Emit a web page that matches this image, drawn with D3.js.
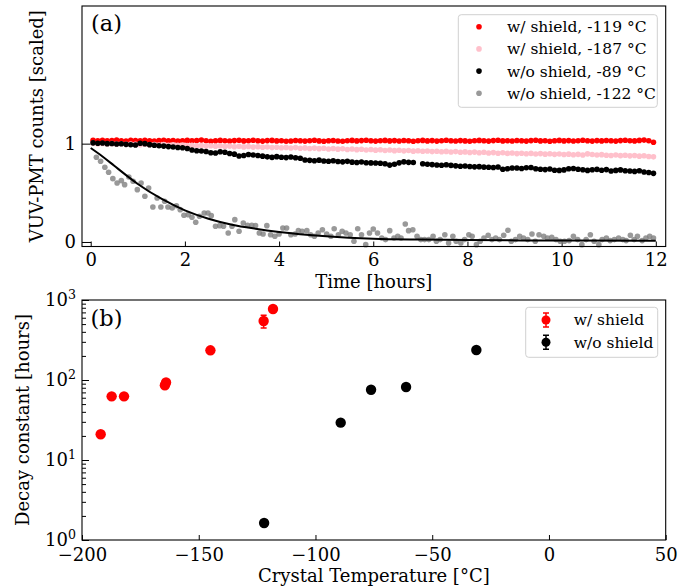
<!DOCTYPE html>
<html>
<head>
<meta charset="utf-8">
<script src="https://cdn.jsdelivr.net/npm/d3@7"></script>
<style>
	body { margin: 0; background: #fff; }
	svg { display: block; font-family: "DejaVu Serif", serif; }
	.axis path.domain { display: none; }
	.axis line { stroke: #000; stroke-width: 1; }
	.axis text { font-family: "DejaVu Serif", serif; font-size: 18px; fill: #000; }
</style>
</head>
<body>
<div id="chart-area"></div>
<script>

// ---------- Panel (a): VUV-PMT counts vs time ----------

// Sampling times shared by the three slow series [hours]
var timeHours = [
	0.05, 0.15, 0.25, 0.35, 0.45, 0.55, 0.65, 0.75, 0.85, 0.95,
	1.05, 1.15, 1.25, 1.35, 1.45, 1.55, 1.65, 1.75, 1.85, 1.95,
	2.05, 2.15, 2.25, 2.35, 2.45, 2.55, 2.65, 2.75, 2.85, 2.95,
	3.05, 3.15, 3.25, 3.35, 3.45, 3.55, 3.65, 3.75, 3.85, 3.95,
	4.05, 4.15, 4.25, 4.35, 4.45, 4.55, 4.65, 4.75, 4.85, 4.95,
	5.05, 5.15, 5.25, 5.35, 5.45, 5.55, 5.65, 5.75, 5.85, 5.95,
	6.05, 6.15, 6.25, 6.35, 6.45, 6.55, 6.65, 6.75, 6.85, 6.95,
	7.05, 7.15, 7.25, 7.35, 7.45, 7.55, 7.65, 7.75, 7.85, 7.95,
	8.05, 8.15, 8.25, 8.35, 8.45, 8.55, 8.65, 8.75, 8.85, 8.95,
	9.05, 9.15, 9.25, 9.35, 9.45, 9.55, 9.65, 9.75, 9.85, 9.95,
	10.05, 10.15, 10.25, 10.35, 10.45, 10.55, 10.65, 10.75, 10.85, 10.95,
	11.05, 11.15, 11.25, 11.35, 11.45, 11.55, 11.65, 11.75, 11.85, 11.95
];

// w/ shield, -119 C
var shield119 = [
	1.035, 1.030, 1.034, 1.028, 1.032, 1.036, 1.030, 1.027, 1.033, 1.031,
	1.029, 1.034, 1.030, 1.026, 1.031, 1.035, 1.029, 1.032, 1.027, 1.030,
	1.033, 1.028, 1.031, 1.036, 1.030, 1.025, 1.029, 1.033, 1.030, 1.027,
	1.031, 1.034, 1.028, 1.030, 1.035, 1.029, 1.026, 1.031, 1.033, 1.028,
	1.030, 1.024, 1.027, 1.032, 1.029, 1.026, 1.030, 1.034, 1.028, 1.025,
	1.029, 1.032, 1.027, 1.024, 1.030, 1.033, 1.028, 1.031, 1.035, 1.029,
	1.026, 1.030, 1.033, 1.028, 1.031, 1.027, 1.032, 1.029, 1.025, 1.030,
	1.033, 1.028, 1.031, 1.026, 1.030, 1.034, 1.029, 1.027, 1.031, 1.028,
	1.024, 1.030, 1.033, 1.029, 1.026, 1.031, 1.035, 1.028, 1.030, 1.027,
	1.032, 1.029, 1.026, 1.031, 1.034, 1.028, 1.030, 1.025, 1.029, 1.033,
	1.028, 1.031, 1.027, 1.030, 1.034, 1.029, 1.026, 1.031, 1.028, 1.032,
	1.029, 1.026, 1.031, 1.035, 1.030, 1.028, 1.033, 1.036, 1.030, 1.014
];

// w/ shield, -187 C
var shield187 = [
	1.004, 0.998, 1.002, 0.996, 1.000, 0.995, 0.999, 0.993, 0.997, 0.994,
	0.990, 0.994, 0.988, 0.992, 0.986, 0.990, 0.984, 0.988, 0.982, 0.985,
	0.980, 0.984, 0.977, 0.981, 0.975, 0.979, 0.973, 0.977, 0.971, 0.975,
	0.969, 0.973, 0.967, 0.971, 0.965, 0.969, 0.963, 0.966, 0.960, 0.964,
	0.958, 0.962, 0.956, 0.960, 0.953, 0.957, 0.951, 0.955, 0.949, 0.953,
	0.946, 0.950, 0.944, 0.948, 0.941, 0.945, 0.939, 0.943, 0.936, 0.940,
	0.934, 0.938, 0.931, 0.935, 0.929, 0.933, 0.927, 0.931, 0.924, 0.928,
	0.922, 0.926, 0.919, 0.923, 0.917, 0.921, 0.915, 0.919, 0.912, 0.916,
	0.910, 0.914, 0.908, 0.912, 0.905, 0.909, 0.903, 0.907, 0.901, 0.905,
	0.899, 0.903, 0.897, 0.901, 0.895, 0.899, 0.893, 0.897, 0.891, 0.895,
	0.889, 0.893, 0.887, 0.891, 0.885, 0.896, 0.890, 0.884, 0.888, 0.882,
	0.880, 0.884, 0.878, 0.882, 0.876, 0.879, 0.873, 0.877, 0.870, 0.866
];

// w/o shield, -89 C (null = missing sample)
var noShield89 = [
	1.008, 1.004, 1.006, 1.000, 1.002, 0.997, 0.999, 0.993, 0.989, 0.986,
	1.004, 1.000, 0.990, 0.984, 0.978, 0.975, 0.970, 0.966, 0.961, 0.958,
	0.950, 0.935, 0.928, 0.925, 0.920, 0.908, 0.905, 0.917, 0.912, 0.900,
	0.893, 0.875, 0.880, 0.889, 0.884, 0.880, 0.873, 0.866, 0.860, 0.868,
	0.862, 0.858, 0.864, 0.857, 0.852, 0.833, 0.830, 0.826, 0.832, 0.824,
	0.821, 0.826, 0.818, 0.815, 0.820, 0.812, 0.809, 0.814, 0.806, 0.804,
	0.803, 0.800, 0.795, 0.782, 0.790, 0.805, 0.815, 0.810, 0.808, null,
	0.795, 0.790, 0.787, 0.783, 0.780, 0.785, 0.779, 0.774, 0.770, 0.772,
	0.768, 0.764, 0.766, 0.761, 0.760, 0.757, 0.762, 0.740, 0.745, 0.753,
	0.752, 0.748, 0.755, 0.758, 0.745, 0.740, 0.736, 0.742, 0.730, 0.728,
	0.733, 0.745, 0.748, 0.740, 0.735, 0.728, 0.734, 0.738, 0.730, 0.736,
	0.722, 0.728, 0.733, 0.725, 0.722, 0.718, 0.724, 0.712, 0.706, 0.698
];

// w/o shield, -122 C (fast decay, noisy)
var noShield122Time = [
	0.12, 0.21, 0.30, 0.38, 0.47, 0.56, 0.65, 0.72, 0.81, 0.90,
	0.99, 1.07, 1.15, 1.23, 1.32, 1.41, 1.49, 1.57, 1.64, 1.73,
	1.82, 1.90, 1.98, 2.07, 2.15, 2.23, 2.31, 2.41, 2.49, 2.56,
	2.65, 2.74, 2.82, 2.92, 3.00, 3.06, 3.15, 3.24, 3.33, 3.42,
	3.50, 3.58, 3.66, 3.74, 3.82, 3.91, 4.00, 4.08, 4.16, 4.25,
	4.34, 4.41, 4.49, 4.59, 4.67, 4.75, 4.83, 4.92, 5.01, 5.10,
	5.17, 5.26, 5.34, 5.42, 5.51, 5.59, 5.67, 5.75, 5.84, 5.92,
	6.00, 6.09, 6.18, 6.26, 6.35, 6.44, 6.52, 6.59, 6.68, 6.75,
	6.84, 6.93, 7.01, 7.09, 7.18, 7.27, 7.34, 7.42, 7.52, 7.60,
	7.69, 7.76, 7.86, 7.94, 8.03, 8.10, 8.19, 8.27, 8.35, 8.44,
	8.52, 8.60, 8.68, 8.77, 8.86, 8.93, 9.02, 9.11, 9.19, 9.28,
	9.37, 9.44, 9.52, 9.62, 9.70, 9.79, 9.88, 9.97, 10.06, 10.16,
	10.25, 10.34, 10.43, 10.52, 10.61, 10.69, 10.79, 10.86, 10.95, 11.03,
	11.12, 11.21, 11.30, 11.37, 11.46, 11.54, 11.61, 11.71, 11.79, 11.87,
	11.95
];
var noShield122 = [
	0.862, 0.821, 0.760, 0.709, 0.644, 0.600, 0.624, 0.583, 0.661, 0.617,
	0.532, 0.600, 0.465, 0.549, 0.356, 0.448, 0.356, 0.414, 0.356, 0.346,
	0.369, 0.329, 0.272, 0.278, 0.251, 0.200, 0.261, 0.295, 0.295, 0.268,
	0.160, 0.166, 0.160, 0.092, 0.160, 0.227, 0.109, 0.193, 0.170, 0.170,
	0.166, 0.092, 0.081, 0.166, 0.074, 0.058, 0.081, 0.142, 0.142, 0.074,
	0.081, 0.115, 0.109, 0.115, 0.074, 0.058, 0.092, 0.125, 0.081, 0.058,
	0.135, 0.074, 0.109, 0.092, 0.074, 0.007, 0.135, 0.074, -0.027, 0.092,
	0.132, 0.092, 0.041, 0.024, 0.115, 0.041, 0.058, 0.041, 0.183, 0.115,
	0.125, 0.058, 0.024, 0.024, 0.024, 0.058, 0.007, 0.024, 0.074, -0.010,
	0.058, 0.007, -0.010, 0.024, 0.074, 0.058, -0.027, 0.007, 0.041, 0.068,
	0.024, 0.041, 0.024, 0.068, 0.119, 0.007, 0.024, 0.058, 0.041, 0.024,
	0.081, 0.007, 0.074, 0.058, 0.041, 0.048, 0.024, 0.007, 0.007, 0.014,
	0.058, 0.024, -0.027, 0.024, 0.074, 0.007, -0.027, 0.024, 0.041, 0.014,
	0.024, 0.041, 0.024, 0.014, 0.068, 0.024, 0.058, 0.014, 0.041, 0.058,
	0.041
];

// Exponential fit to the -122 C data
var fitTime   = [0, 0.25, 0.5, 0.75, 1, 1.5, 2, 2.5, 3, 3.5, 4, 5, 6, 7, 8, 10, 12];
var fitCounts = [0.956, 0.87, 0.775, 0.68, 0.59, 0.44, 0.322, 0.237, 0.176, 0.135, 0.102, 0.058, 0.033, 0.024, 0.019, 0.015, 0.013];

var seriesLabels = ["w/ shield, -119 °C", "w/ shield, -187 °C", "w/o shield, -89 °C", "w/o shield, -122 °C"];

// ---------- Panel (b): decay constant vs crystal temperature ----------
var shieldTemp    = [-192, -187.3, -182, -164.5, -164, -145, -122.2, -118.2];
var shieldDecay   = [21, 62.5, 62.5, 86, 93, 235, 547, 772];
var shieldErr     = [1, 3, 3, 5, 5, 12, 100, 40];
var noShieldTemp  = [-122, -89.2, -76.2, -61.2, -31.1];
var noShieldDecay = [1.63, 29.3, 75.6, 81.7, 237];
var noShieldErr   = [0.05, 1.5, 4, 4, 12];
var decayLabels   = ["w/ shield", "w/o shield"];

// Tick labels
var timeTicks  = [0, 2, 4, 6, 8, 10, 12];
var countTicks = [0, 1];
var tempTicks  = [-200, -150, -100, -50, 0, 50];
var decayTicks = [1, 10, 100, 1000];


// ---------- Layout ----------
var width = 695, height = 588;
var boxA = { left: 82, right: 665.7, top: 6,   bottom: 246.5 };
var boxB = { left: 82, right: 665.7, top: 300, bottom: 540 };

var seriesColors = ["#ff0000", "pink", "#000000", "#808080"];

var svg = d3.select('#chart-area')
	.append('svg')
		.attr('width', width)
		.attr('height', height);

// Scales
var xA = d3.scaleLinear().domain([-0.185, 12.21]).range([boxA.left, boxA.right]);
var yA = d3.scaleLinear().domain([-0.046, 2.40]).range([boxA.bottom, boxA.top]);
var xB = d3.scaleLinear().domain([-200, 50]).range([boxB.left, boxB.right]);
var yB = d3.scaleLog().domain([1, 1000]).range([boxB.bottom, boxB.top]);


// ---------- Panel (a) ----------
svg.append('g')
	.attr('class', 'axis')
	.attr('transform', 'translate(0,' + boxA.bottom + ')')
	.call(d3.axisBottom(xA).tickValues(timeTicks).tickSize(-5).tickPadding(7).tickFormat(d3.format('d')));

svg.append('g')
	.attr('class', 'axis')
	.attr('transform', 'translate(' + boxA.left + ',0)')
	.call(d3.axisLeft(yA).tickValues(countTicks).tickSize(-9).tickPadding(6).tickFormat(d3.format('d')));

// Slow series share the same time stamps
var slowSeries = [shield119, shield187, noShield89];
slowSeries.forEach(function(values, i) {
	svg.append('g')
		.selectAll('circle')
		.data(timeHours.map(function(t, j) { return { t: t, v: values[j] }; })
			.filter(function(d) { return d.v !== null; }))
		.enter().append('circle')
			.attr('cx', function(d) { return xA(d.t); })
			.attr('cy', function(d) { return yA(d.v); })
			.attr('r', 2.8)
			.attr('fill', seriesColors[i]);
});

// Fast decaying series
svg.append('g')
	.selectAll('circle')
	.data(noShield122Time.map(function(t, j) { return { t: t, v: noShield122[j] }; }))
	.enter().append('circle')
		.attr('cx', function(d) { return xA(d.t); })
		.attr('cy', function(d) { return yA(d.v); })
		.attr('r', 2.8)
		.attr('fill', seriesColors[3])
		.attr('fill-opacity', 0.8);

// Fit curve
var fitLine = d3.line()
	.x(function(d, i) { return xA(fitTime[i]); })
	.y(function(d) { return yA(d); })
	.curve(d3.curveMonotoneX);

svg.append('path')
	.attr('d', fitLine(fitCounts))
	.attr('fill', 'none')
	.attr('stroke', '#000')
	.attr('stroke-width', 2);

// Legend (a)
var legA = svg.append('g');
legA.append('rect')
	.attr('x', 458.3).attr('y', 14.7)
	.attr('width', 199).attr('height', 92.6)
	.attr('rx', 3)
	.attr('fill', '#fff').attr('fill-opacity', 0.8)
	.attr('stroke', '#d0d0d0').attr('stroke-width', 1);

seriesLabels.forEach(function(label, i) {
	var yy = 26.7 + i * 22.2;
	legA.append('circle')
		.attr('cx', 479).attr('cy', yy).attr('r', 2.8)
		.attr('fill', seriesColors[i])
		.attr('fill-opacity', i === 3 ? 0.8 : 1);
	legA.append('text')
		.attr('x', 507).attr('y', yy).attr('dy', '0.35em')
		.attr('font-size', '15.5px')
		.text(label);
});

svg.append('text')
	.attr('x', 91).attr('y', 31)
	.attr('font-size', '22.5px')
	.text('(a)');

// Axis titles (a)
svg.append('text')
	.attr('x', (boxA.left + boxA.right) / 2).attr('y', 288)
	.attr('text-anchor', 'middle')
	.attr('font-size', '18px')
	.text('Time [hours]');

svg.append('text')
	.attr('transform', 'translate(43,' + ((boxA.top + boxA.bottom) / 2) + ') rotate(-90)')
	.attr('text-anchor', 'middle')
	.attr('font-size', '18px')
	.text('VUV-PMT counts [scaled]');

svg.append('rect')
	.attr('x', boxA.left).attr('y', boxA.top)
	.attr('width', boxA.right - boxA.left).attr('height', boxA.bottom - boxA.top)
	.attr('fill', 'none').attr('stroke', '#000').attr('stroke-width', 1.1);


// ---------- Panel (b) ----------
svg.append('g')
	.attr('class', 'axis')
	.attr('transform', 'translate(0,' + boxB.bottom + ')')
	.call(d3.axisBottom(xB).tickValues(tempTicks).tickSize(-5).tickPadding(8.5).tickFormat(d3.format('d')));

// Minor log ticks
var minorTicks = yB.ticks().filter(function(d) { return decayTicks.indexOf(d) < 0; });
svg.append('g')
	.attr('class', 'axis')
	.attr('transform', 'translate(' + boxB.left + ',0)')
	.call(d3.axisLeft(yB).tickValues(minorTicks).tickSize(-4).tickFormat(''));

var yAxisB = svg.append('g')
	.attr('class', 'axis')
	.attr('transform', 'translate(' + boxB.left + ',0)')
	.call(d3.axisLeft(yB).tickValues(decayTicks).tickSize(-7).tickPadding(6).tickFormat(''));

// 10^n labels
yAxisB.selectAll('.tick text').each(function(d) {
	var t = d3.select(this).attr('dy', null).attr('y', 5.5);
	t.append('tspan').text('10');
	t.append('tspan')
		.attr('dy', -7)
		.attr('font-size', '12.6px')
		.text(Math.round(Math.log10(d)));
});

// Scatter with error bars
function drawDecay(temps, decays, errs, color) {
	var g = svg.append('g');
	var pts = temps.map(function(t, i) { return { t: t, v: decays[i], e: errs[i] }; });

	g.selectAll('.err')
		.data(pts)
		.enter().append('path')
			.attr('class', 'err')
			.attr('d', function(d) {
				var x = xB(d.t), y1 = yB(d.v - d.e), y2 = yB(d.v + d.e);
				return 'M' + x + ',' + y1 + 'V' + y2 +
					'M' + (x - 3) + ',' + y1 + 'H' + (x + 3) +
					'M' + (x - 3) + ',' + y2 + 'H' + (x + 3);
			})
			.attr('stroke', color)
			.attr('stroke-width', 1.5)
			.attr('fill', 'none');

	g.selectAll('circle')
		.data(pts)
		.enter().append('circle')
			.attr('cx', function(d) { return xB(d.t); })
			.attr('cy', function(d) { return yB(d.v); })
			.attr('r', 5.2)
			.attr('fill', color);
}

drawDecay(shieldTemp, shieldDecay, shieldErr, '#ff0000');
drawDecay(noShieldTemp, noShieldDecay, noShieldErr, '#000000');

// Legend (b)
var legB = svg.append('g');
legB.append('rect')
	.attr('x', 525.7).attr('y', 307.3)
	.attr('width', 132).attr('height', 50)
	.attr('rx', 3)
	.attr('fill', '#fff').attr('fill-opacity', 0.8)
	.attr('stroke', '#d0d0d0').attr('stroke-width', 1);

decayLabels.forEach(function(label, i) {
	var yy = 320 + i * 22.3;
	var color = i === 0 ? '#ff0000' : '#000000';
	legB.append('path')
		.attr('d', 'M546,' + (yy - 7) + 'V' + (yy + 7) +
			'M543,' + (yy - 7) + 'H549M543,' + (yy + 7) + 'H549')
		.attr('stroke', color).attr('stroke-width', 1.5).attr('fill', 'none');
	legB.append('circle')
		.attr('cx', 546).attr('cy', yy).attr('r', 4.5)
		.attr('fill', color);
	legB.append('text')
		.attr('x', 573.7).attr('y', yy).attr('dy', '0.35em')
		.attr('font-size', '15.5px')
		.text(label);
});

svg.append('text')
	.attr('x', 90.5).attr('y', 325.5)
	.attr('font-size', '22.5px')
	.text('(b)');

// Axis titles (b)
svg.append('text')
	.attr('x', (boxB.left + boxB.right) / 2).attr('y', 582)
	.attr('text-anchor', 'middle')
	.attr('font-size', '18px')
	.text('Crystal Temperature [°C]');

svg.append('text')
	.attr('transform', 'translate(28.5,' + ((boxB.top + boxB.bottom) / 2) + ') rotate(-90)')
	.attr('text-anchor', 'middle')
	.attr('font-size', '18px')
	.text('Decay constant [hours]');

svg.append('rect')
	.attr('x', boxB.left).attr('y', boxB.top)
	.attr('width', boxB.right - boxB.left).attr('height', boxB.bottom - boxB.top)
	.attr('fill', 'none').attr('stroke', '#000').attr('stroke-width', 1.1);

</script>
</body>
</html>
